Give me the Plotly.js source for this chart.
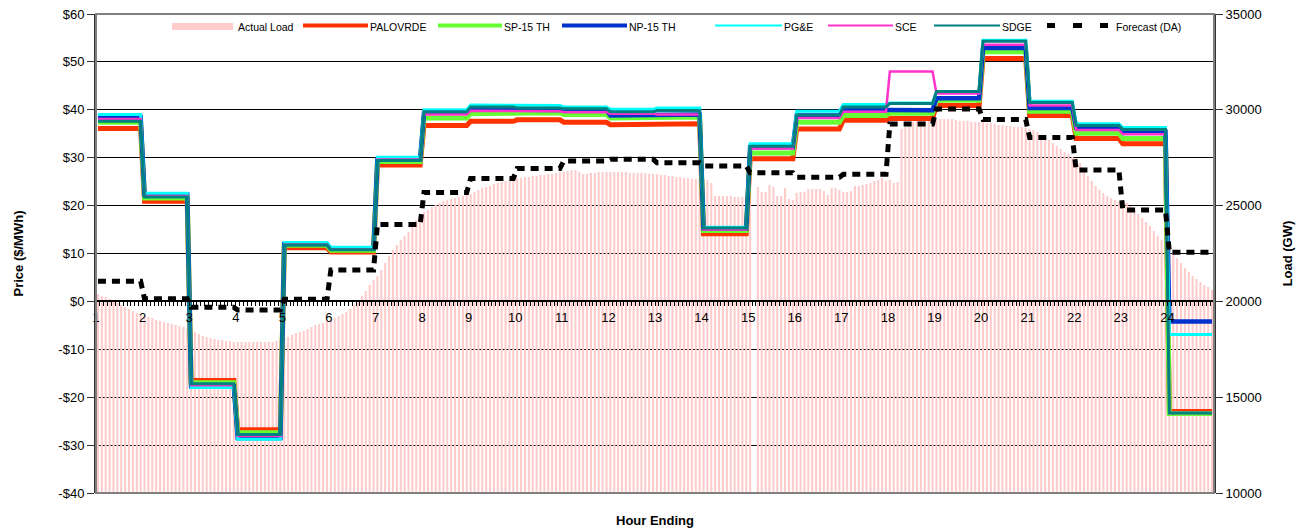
<!DOCTYPE html>
<html><head><meta charset="utf-8">
<script src="https://cdn.plot.ly/plotly-3.0.1.min.js"></script>
<style>html,body{margin:0;padding:0;background:#fff}#chart{width:1304px;height:529px}</style>
</head><body><div id="chart"></div>
<script>
// ---------- DATA ----------
const hours = [1,2,3,4,5,6,7,8,9,10,11,12,13,14,15,16,17,18,19,20,21,22,23,24];
const hourLabels = hours.map(String);
const intervalsPerHour = 12; // 5-minute load readings

// Actual Load (5-minute), 12 per hour
const actualLoad = [
 20386,20281,20229,20125,20020,19916,19812,19707,19603,19499,19394,19342,
 19238,19186,19133,19029,18977,18925,18872,18820,18768,18716,18664,18559,
 18507,18403,18298,18194,18142,18090,18037,17985,17985,17933,17933,17880,
 17880,17880,17880,17880,17880,17880,17880,17880,17880,17880,17933,17985,
 18090,18142,18246,18351,18403,18455,18559,18664,18768,18820,18872,18977,
 19029,19133,19238,19342,19447,19603,19812,20073,20281,20542,20856,21116,
 21325,21638,22004,22369,22682,22943,23204,23413,23622,23935,24248,24509,
 24665,24770,24926,25031,25135,25240,25292,25344,25396,25448,25500,25553,
 25605,25709,25814,25918,25970,26022,26127,26179,26231,26283,26335,26388,
 26440,26440,26492,26492,26544,26544,26597,26597,26649,26649,26701,26753,
 26753,26805,26857,26857,26753,26649,26649,26701,26701,26753,26753,26753,
 26753,26753,26753,26753,26753,26701,26701,26701,26701,26701,26649,26649,
 26649,26597,26597,26544,26544,26492,26492,26440,26440,26388,26388,26388,
 26388,26335,26179,25500,25500,25500,25500,25500,25448,25448,25448,25553,
 25761,null,25970,25709,25709,26074,25970,25500,25500,25918,25344,25292,
 25657,25709,25709,25866,25866,25866,25866,25761,25553,25918,25918,25814,
 25709,25709,25761,26022,26022,26074,26127,26179,26283,26335,26440,26283,
 26335,26179,26231,28997,29101,29258,29362,29414,29414,29414,29414,29466,
 29466,29519,29519,29519,29519,29466,29414,29414,29414,29362,29362,29362,
 29362,29310,29310,29258,29205,29205,29153,29153,29101,29101,29101,29049,
 28997,28945,28840,28684,28527,28423,28266,28110,27953,27797,27692,27536,
 27484,27223,26857,26544,26283,26022,25814,25657,25500,25396,25292,25187,
 25187,25135,24979,24770,24561,24352,24143,23935,23674,23413,23204,22995,
 22839,22578,22265,22004,21743,21534,21325,21168,21012,20856,20751,20595
];

// Hourly prices ($/MWh)
const palovrde = [36.1,20.9,-16.5,-26.8,11.2,10.3,28.5,36.7,37.6,37.9,37.4,36.9,37.1,14.1,29.8,36.0,37.8,38.2,40.9,50.7,38.8,34.0,32.9,-23.0];
const sp15     = [37.4,21.6,-17.0,-27.4,11.7,10.7,29.2,38.3,39.2,39.4,39.0,38.3,38.5,14.8,31.0,37.4,38.8,39.3,42.0,52.1,39.7,35.1,34.0,-23.4];
const np15     = [38.5,22.3,-17.7,-28.5,12.0,11.0,29.7,39.4,40.3,40.0,39.9,38.8,39.0,15.2,32.2,38.8,40.0,39.9,42.4,52.9,40.4,36.3,35.4,-4.2];
const pge      = [39.0,22.6,-18.0,-28.8,12.3,11.3,30.1,40.0,41.0,40.9,40.6,40.1,40.4,15.5,32.9,39.7,41.1,41.4,43.7,54.5,41.8,37.1,36.3,-6.9];
const sce      = [38.1,22.0,-17.5,-28.1,11.9,10.9,29.6,39.0,39.8,39.7,39.5,39.2,39.0,15.0,31.9,38.3,39.6,48.0,43.4,53.6,40.9,35.8,34.9,-23.3];
const sdge     = [37.6,21.8,-17.2,-27.8,11.8,10.8,29.4,39.6,40.6,40.4,40.2,39.6,39.8,15.3,32.4,38.9,40.6,41.3,43.8,54.3,41.5,36.7,35.9,-23.3];

// Day-ahead load forecast (hourly)
const forecastDA = [21050,20140,19690,19550,20110,21640,24020,25690,26420,26940,27330,27420,27240,27070,26720,26480,26630,29260,30040,29500,28560,26860,24770,22560];

const priceTicks = [-40,-30,-20,-10,0,10,20,30,40,50,60];
const priceTickText = priceTicks.map(v => (v < 0 ? '-$' : '$') + Math.abs(v));
const loadTicks = [10000,15000,20000,25000,30000,35000];
const loadTickText = loadTicks.map(String);

// ---------- BUILD ----------
const barX = actualLoad.map((_, i) => hours[0] + (i + 0.5) / intervalsPerHour);
function stepXY(vals) {
  const x = [], y = [];
  hours.forEach((h, i) => {
    x.push(h + 0.5 / intervalsPerHour, h + 1 - 0.5 / intervalsPerHour);
    y.push(vals[i], vals[i]);
  });
  return {x, y};
}
function priceTrace(name, vals, color, width) {
  const s = stepXY(vals);
  return {type:'scatter', mode:'lines', name, x:s.x, y:s.y, yaxis:'y2',
          line:{color, width}, showlegend:false, hoverinfo:'x+y+name'};
}
const fc = stepXY(forecastDA);

const traces = [
  {type:'bar', name:'Actual Load', x:barX, y:actualLoad, yaxis:'y',
   marker:{color:'#FFCCCC', line:{width:0}}, showlegend:false},
  priceTrace('PALOVRDE', palovrde, '#FF3300', 5),
  priceTrace('SP-15 TH', sp15, '#66FF33', 5),
  priceTrace('NP-15 TH', np15, '#0033CC', 4.5),
  priceTrace('PG&E', pge, '#00FFFF', 3),
  priceTrace('SCE', sce, '#FF33CC', 2.5),
  priceTrace('SDGE', sdge, '#008080', 3),
  {type:'scatter', mode:'lines', name:'Forecast (DA)', x:fc.x, y:fc.y, yaxis:'y3',
   line:{color:'#000', width:5, dash:'8px,6px'}, showlegend:false}
];

// ---------- LAYOUT ----------
const L = 96, R = 1214, T = 14, B = 493;
const px = x => (x - L) / (R - L);
const py = y => (B - y) / (B - T);

const shapes = [
  {type:'rect', xref:'paper', yref:'paper', x0:0, x1:1, y0:0, y1:1,
   line:{color:'#808080', width:2}, layer:'above'}
];
const annotations = [
  {text:'<b>Hour Ending</b>', xref:'paper', yref:'paper', x:0.5, y:py(520),
   xanchor:'center', yanchor:'middle', showarrow:false, font:{size:13, color:'#000'}}
];
const legendY = 26;
const legendItems = [
  {name:'Actual Load', kind:'rect', x0:172, x1:233, color:'#FFCCCC', tx:236},
  {name:'PALOVRDE', kind:'line', x0:303, x1:368, color:'#FF3300', w:4, tx:368},
  {name:'SP-15 TH', kind:'line', x0:438, x1:502, color:'#66FF33', w:4, tx:502},
  {name:'NP-15 TH', kind:'line', x0:562, x1:627, color:'#0033CC', w:4, tx:627},
  {name:'PG&E', kind:'line', x0:715, x1:782, color:'#00FFFF', w:2, tx:782},
  {name:'SCE', kind:'line', x0:828, x1:893, color:'#FF33CC', w:2, tx:893},
  {name:'SDGE', kind:'line', x0:934, x1:1000, color:'#008080', w:2, tx:1000},
  {name:'Forecast (DA)', kind:'dash', segs:[[1047,1055],[1073,1082],[1100,1108]], color:'#000', w:5, tx:1114}
];
legendItems.forEach(it => {
  if (it.kind === 'rect') {
    shapes.push({type:'rect', xref:'paper', yref:'paper', x0:px(it.x0), x1:px(it.x1),
      y0:py(legendY+4), y1:py(legendY-3), fillcolor:it.color, line:{width:0}});
  } else if (it.kind === 'line') {
    shapes.push({type:'line', xref:'paper', yref:'paper', x0:px(it.x0), x1:px(it.x1),
      y0:py(legendY-0.5), y1:py(legendY-0.5), line:{color:it.color, width:it.w}});
  } else {
    it.segs.forEach(s => shapes.push({type:'line', xref:'paper', yref:'paper', x0:px(s[0]), x1:px(s[1]),
      y0:py(legendY-0.5), y1:py(legendY-0.5), line:{color:it.color, width:it.w}}));
  }
  annotations.push({text:it.name, xref:'paper', yref:'paper', x:px(it.tx), y:py(legendY+1),
    xanchor:'left', yanchor:'middle', showarrow:false, font:{size:10.5, color:'#000'}});
});

const layout = {
  width:1304, height:529,
  margin:{l:L, r:1304-R, t:T, b:529-B, pad:0},
  paper_bgcolor:'#fff', plot_bgcolor:'#fff',
  font:{family:'"Liberation Sans", Arial, sans-serif', size:13, color:'#000'},
  showlegend:false,
  bargap:0.45,
  xaxis:{range:[hours[0], hours[hours.length-1]+1], anchor:'free', position:0.4,
    tickvals:hours, ticktext:hourLabels, ticks:'outside', ticklen:4, tickcolor:'#000', tickwidth:1,
    showline:true, linecolor:'#000', linewidth:1.5, showgrid:false, zeroline:false,
    tickfont:{size:13, color:'#000'},
    minor:{ticks:'outside', ticklen:4, dtick:1/intervalsPerHour, tick0:hours[0], tickcolor:'#000', showgrid:false}},
  yaxis:{side:'right', range:[10000,35000], tickvals:loadTicks, ticktext:loadTickText, ticks:'outside', ticklen:7,
    tickcolor:'#333', showline:true, linecolor:'#333', linewidth:2, showgrid:false, zeroline:false,
    tickfont:{size:13, color:'#000'},
    title:{text:'<b>Load (GW)</b>', font:{size:13, color:'#000'}, standoff:22}},
  yaxis2:{overlaying:'y', side:'left', range:[-40,60], tickvals:priceTicks, ticktext:priceTickText,
    ticks:'outside', ticklen:7, tickcolor:'#333', showline:true, linecolor:'#333', linewidth:2,
    showgrid:true, gridcolor:'#000', gridwidth:1, zeroline:false,
    tickfont:{size:13, color:'#000'},
    title:{text:'<b>Price ($/MWh)</b>', font:{size:13, color:'#000'}, standoff:32}},
  yaxis3:{overlaying:'y', range:[10000,35000], visible:false},
  shapes, annotations
};

Plotly.newPlot('chart', traces, layout, {displayModeBar:false, responsive:false});
</script>
</body></html>
